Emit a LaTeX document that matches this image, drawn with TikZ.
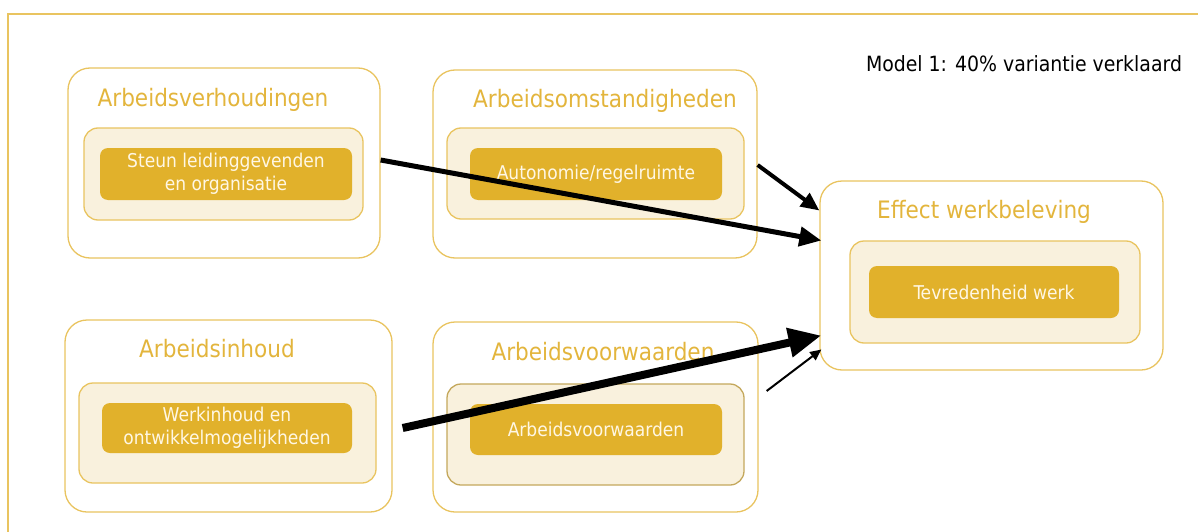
\documentclass[tikz,border=0pt]{standalone}
\usepackage{fontspec}
\setmainfont{DejaVu Sans Condensed}
\usetikzlibrary{calc,arrows.meta}
\definecolor{gold}{RGB}{233,196,96}
\definecolor{cream}{RGB}{249,241,221}
\definecolor{mustard}{RGB}{225,177,43}
\definecolor{olive}{RGB}{196,168,92}
\definecolor{titlegold}{RGB}{227,181,60}
\definecolor{lighttext}{RGB}{255,247,228}

\tikzset{
  group/.style={draw=gold, line width=1.3pt, rounded corners=22pt, fill=white, minimum width=#1, inner sep=0pt},
  panel/.style={draw=gold, line width=1.3pt, rounded corners=14pt, fill=cream, minimum width=#1, inner sep=0pt},
  factor/.style={fill=mustard, rounded corners=8pt, text=lighttext, align=center, minimum width=252pt, minimum height=52pt,
    inner sep=0pt, font=\fontsize{19}{23}\selectfont},
  heading/.style={text=titlegold, font=\fontsize{24}{28}\selectfont},
  effect/.style={line width=#1, -{Triangle[length=3.6*#1+4pt, width=3*#1+4pt]}}
}

\begin{document}
\begin{tikzpicture}[x=1pt, y=-1pt]
\useasboundingbox (0,0) rectangle (1198,532);

% frame
\draw[gold, line width=1.2pt] (1198,14) -- (8,14) -- (8,532);

\node[black, font=\fontsize{21}{25}\selectfont] (model) at (1024,64) {Model 1: 40\% variantie verklaard};

% arbeidsverhoudingen
\node[group=312pt, minimum height=190pt] (verhoudingen) at (224,163) {};
\node[heading] (tverh) at (213,100) {Arbeidsverhoudingen};
\node[panel=279pt, minimum height=92pt] (pverh) at (223.5,174) {};
\node[factor] (steun) at (226,174) {Steun leidinggevenden\\en organisatie};

% arbeidsomstandigheden
\node[group=324pt, minimum height=188pt] (omstandigheden) at (595,164) {};
\node[heading] (tomst) at (605,101) {Arbeidsomstandigheden};
\node[panel=297pt, minimum height=91pt] (pomst) at (595.5,173.5) {};
\node[factor] (autonomie) at (596,174) {Autonomie/regelruimte};

% effect
\node[group=343pt, minimum height=189pt] (werkbeleving) at (991.5,275.5) {};
\node[heading] (teff) at (984,212) {Effect werkbeleving};
\node[panel=290pt, minimum height=102pt] (peff) at (995,292) {};
\node[factor, minimum width=250pt] (tevreden) at (994,292) {Tevredenheid werk};

% arbeidsinhoud
\node[group=327pt, minimum height=192pt] (inhoud) at (228.5,416) {};
\node[heading] (tinh) at (217,349) {Arbeidsinhoud};
\node[panel=297pt, minimum height=100pt] (pinh) at (227.5,433) {};
\node[factor, minimum width=250pt, minimum height=50pt] (werkinhoud) at (227,428) {Werkinhoud en\\ontwikkelmogelijkheden};

% arbeidsvoorwaarden
\node[group=325pt, minimum height=190pt] (voorwaarden) at (595.5,417) {};
\node[heading] (tvoorw) at (603,352) {Arbeidsvoorwaarden};
\node[panel=297pt, minimum height=101pt, draw=olive] (pvoorw) at (595.5,434.5) {};
\node[factor, minimum height=51pt] (voorw) at (596,429.5) {Arbeidsvoorwaarden};

% arrows
\draw[effect=5pt] ($(verhoudingen.east)+(0,-3)$) -- ($(werkbeleving.west)+(2,-35)$);
\draw[effect=4pt] ($(omstandigheden.east)+(0,1)$) -- ($(werkbeleving.west)+(0,-65)$);
\draw[effect=8pt] ($(inhoud.east)+(10,12)$) -- ($(werkbeleving.west)+(2,60)$);
\draw[effect=2pt] ($(voorwaarden.east)+(8,-26)$) -- ($(werkbeleving.west)+(2,74)$);
\end{tikzpicture}
\end{document}
